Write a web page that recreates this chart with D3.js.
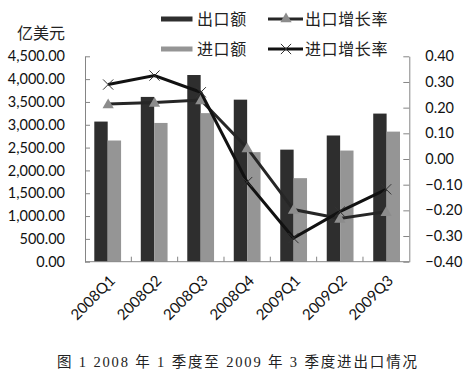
<!DOCTYPE html>
<html><head><meta charset="utf-8">
<script src="https://cdn.jsdelivr.net/npm/d3@7"></script>
<style>
html,body{margin:0;padding:0;background:#fff;}
svg{display:block;}
</style></head>
<body>
<svg id="c" width="472" height="379"></svg>
<script>
const categories = ["2008Q1","2008Q2","2008Q3","2008Q4","2009Q1","2009Q2","2009Q3"];
const exportValues = [3070, 3610, 4090, 3550, 2455, 2765, 3245];
const importValues = [2655, 3040, 3255, 2400, 1830, 2435, 2850];
const exportGrowth = [0.214, 0.220, 0.230, 0.043, -0.197, -0.232, -0.205];
const importGrowth = [0.290, 0.325, 0.260, -0.090, -0.308, -0.205, -0.118];
const leftTicks = [0,500,1000,1500,2000,2500,3000,3500,4000,4500];
const rightTicks = [-0.4,-0.3,-0.2,-0.1,0,0.1,0.2,0.3,0.4];
const seriesNames = ["出口额","进口额","出口增长率","进口增长率"];
const yTitle = "亿美元";
const caption = "图 1  2008 年 1 季度至 2009 年 3 季度进出口情况";

const svg = d3.select("#c");
svg.append("rect").attr("width",472).attr("height",379).attr("fill","#fff");

const L = 85, R = 409.3, T = 56.3, B = 261.7;
const axisColor = "#858585";
const font = "Lato, 'Noto Sans', sans-serif";
const cjk = "'Noto Sans CJK SC', sans-serif";

const x = d3.scaleBand().domain(categories).range([L, R]).paddingInner(0.424).paddingOuter(0.2);
const xs = d3.scaleBand().domain(["e","i"]).range([0, x.bandwidth()]);
const xc = d3.scalePoint().domain(categories).range([L, R]).padding(0.5);
const yL = d3.scaleLinear().domain([0,4500]).range([B, T]);
const yR = d3.scaleLinear().domain([-0.4,0.4]).range([B, T]);

// bars
const g = svg.append("g");
g.selectAll("rect.e").data(categories).join("rect")
  .attr("x", (d)=>x(d)+xs("e")).attr("width", xs.bandwidth())
  .attr("y", (d,i)=>yL(exportValues[i])).attr("height",(d,i)=>B-yL(exportValues[i]))
  .attr("fill","#2e2e2e");
g.selectAll("rect.i").data(categories).join("rect")
  .attr("x", (d)=>x(d)+xs("i")).attr("width", xs.bandwidth())
  .attr("y", (d,i)=>yL(importValues[i])).attr("height",(d,i)=>B-yL(importValues[i]))
  .attr("fill","#959595");

// axes
const leftAxis = d3.axisLeft(yL).tickValues(leftTicks).tickSizeInner(-5).tickSizeOuter(0).tickPadding(20)
  .tickFormat(d3.format(",.2f"));
const ga = svg.append("g").attr("transform",`translate(${L},0)`).call(leftAxis);
ga.select(".domain").attr("stroke",axisColor);
ga.selectAll(".tick line").attr("stroke",axisColor);
ga.selectAll("text").attr("font-family",font).attr("font-size",14.5).attr("fill","#111");

const rightAxis = d3.axisRight(yR).tickValues(rightTicks).tickSizeInner(-6).tickSizeOuter(0).tickPadding(16)
  .tickFormat(d3.format(".2f"));
const gr = svg.append("g").attr("transform",`translate(${R},0)`).call(rightAxis);
gr.select(".domain").attr("stroke",axisColor);
gr.selectAll(".tick line").attr("stroke",axisColor);
gr.selectAll("text").attr("font-family",font).attr("font-size",14.5).attr("fill","#111");

// x axis
const gx = svg.append("g");
gx.append("line").attr("x1",L).attr("x2",R).attr("y1",B).attr("y2",B).attr("stroke",axisColor);
const step = (R-L)/categories.length;
gx.selectAll("line.t").data(d3.range(1,categories.length)).join("line")
  .attr("x1",d=>L+d*step).attr("x2",d=>L+d*step).attr("y1",B).attr("y2",B-5).attr("stroke",axisColor);
gx.selectAll("text").data(categories).join("text")
  .attr("transform",d=>`translate(${xc(d)+8},${B+20}) rotate(-45)`)
  .attr("text-anchor","end").attr("font-family",font).attr("font-size",15).attr("fill","#111")
  .text(d=>d);

// lines
const lineE = d3.line().x((d,i)=>xc(categories[i])).y(d=>yR(d));
svg.append("path").attr("d",lineE(exportGrowth)).attr("fill","none").attr("stroke","#262626").attr("stroke-width",3);
const tri = d3.symbol().type(d3.symbolTriangle).size(55);
svg.selectAll("path.tri").data(exportGrowth).join("path")
  .attr("d",tri).attr("transform",(d,i)=>`translate(${xc(categories[i])},${yR(d)+1})`).attr("fill","#8c8c8c");

svg.append("path").attr("d",lineE(importGrowth)).attr("fill","none").attr("stroke","#111").attr("stroke-width",3);
const cross = d3.symbol().type(d3.symbolX).size(70);
svg.selectAll("path.x").data(importGrowth).join("path")
  .attr("d",cross).attr("transform",(d,i)=>`translate(${xc(categories[i])},${yR(d)})`)
  .attr("fill","none").attr("stroke","#333").attr("stroke-width",1);

// legend
const lg = svg.append("g");
lg.append("rect").attr("x",161).attr("y",16.5).attr("width",31.5).attr("height",5).attr("fill","#2e2e2e");
lg.append("rect").attr("x",161).attr("y",46.5).attr("width",31.5).attr("height",5).attr("fill","#959595");
lg.append("line").attr("x1",268).attr("x2",303).attr("y1",19).attr("y2",19).attr("stroke","#262626").attr("stroke-width",3);
lg.append("path").attr("d",tri).attr("transform","translate(286,19)").attr("fill","#8c8c8c");
lg.append("line").attr("x1",268).attr("x2",303).attr("y1",49).attr("y2",49).attr("stroke","#111").attr("stroke-width",3);
lg.append("path").attr("d",cross).attr("transform","translate(286,49)").attr("fill","none").attr("stroke","#333").attr("stroke-width",1);
const lt = [[seriesNames[0],197,19],[seriesNames[1],197,49],[seriesNames[2],305,19],[seriesNames[3],305,49]];
lg.selectAll("text").data(lt).join("text")
  .attr("x",d=>d[1]).attr("y",d=>d[2]).attr("dy","0.36em")
  .attr("font-family",cjk).attr("font-size",16).attr("letter-spacing",0.6).attr("fill","#222")
  .text(d=>d[0]);

svg.append("text").attr("x",41).attr("y",33).attr("dy","0.36em").attr("text-anchor","middle")
  .attr("font-family",cjk).attr("font-size",16).attr("fill","#222").text(yTitle);

svg.append("text").attr("x",57).attr("y",362).attr("dy","0.36em")
  .attr("font-family","'Liberation Serif', 'Noto Sans CJK SC', serif").attr("font-size",14.5).attr("fill","#222")
  .attr("textLength",360).attr("lengthAdjust","spacing")
  .text(caption);
</script>
</body></html>
